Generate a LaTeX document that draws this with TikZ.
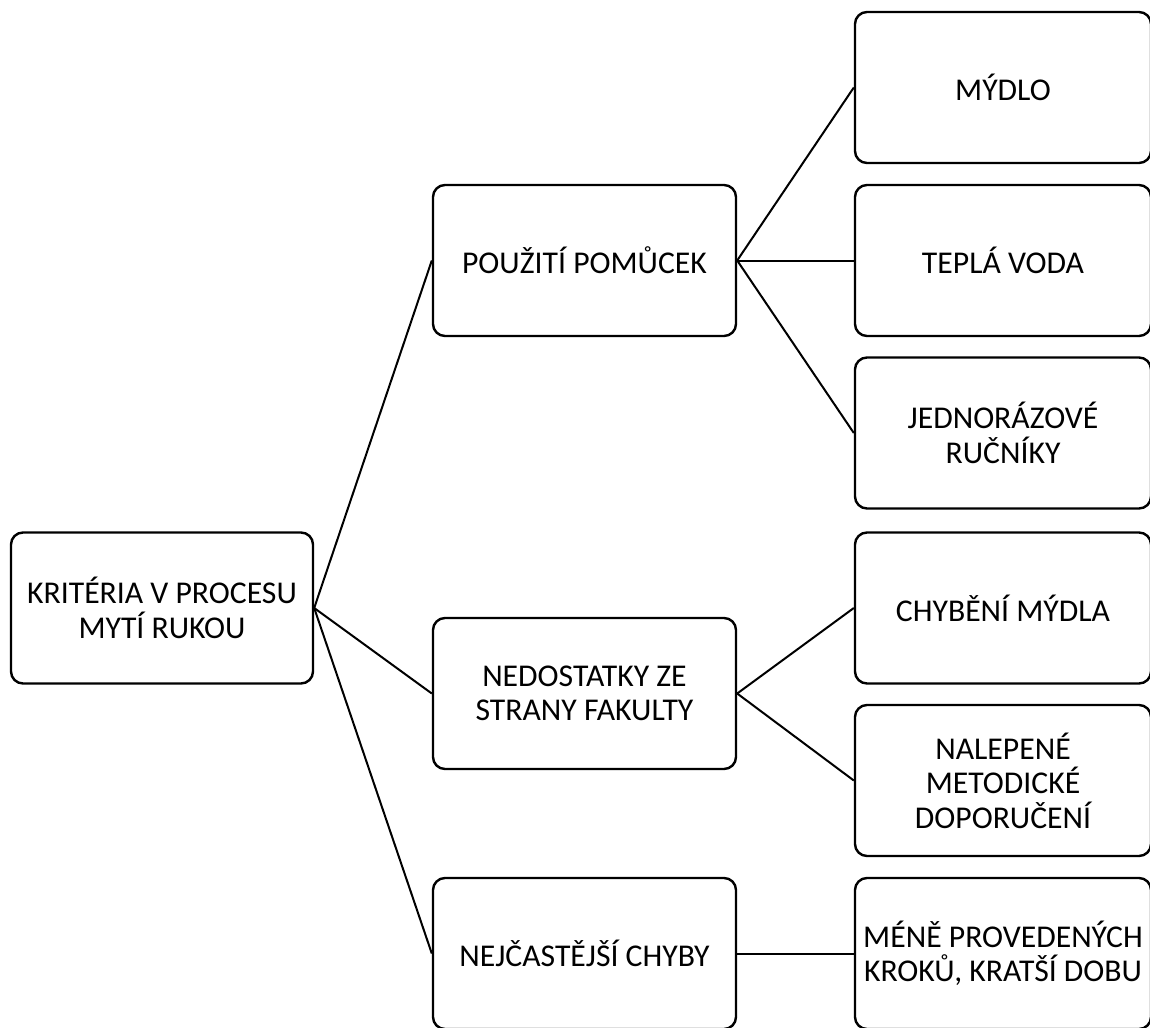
\documentclass[tikz,border=0pt]{standalone}
\usepackage{fontspec}
\setmainfont{Carlito}
\usepackage{tikz}
\usetikzlibrary{positioning}

\begin{document}
\begin{tikzpicture}
	[   x=1pt,y=-1pt,
		bnode/.style={draw=black,line width=2.4pt,fill=white,rounded corners=12pt,align=center,
			minimum height=151pt,minimum width=#1,inner sep=0pt,
			font=\fontsize{31.7}{34.5}\selectfont},
	]
	\tikzset{normal line/.style={draw,line width=2pt}}
	\useasboundingbox (0,0) rectangle (1150,1027);
	
	\node[bnode=302pt] (k) at (162,608) {KRITÉRIA V PROCESU\\MYTÍ RUKOU};
	
	\node[bnode=303pt] (m-1) at (584.5,260.5) {POUŽITÍ POMŮCEK};
	\node[bnode=303pt] (m-2) at (584.5,693.5) {NEDOSTATKY ZE\\STRANY FAKULTY};
	\node[bnode=303pt] (m-3) at (584.5,953.5) {NEJČASTĚJŠÍ CHYBY};
	
	\node[bnode=296pt] (r-1) at (1003,87.5) {MÝDLO};
	\node[bnode=296pt] (r-2) at (1003,260.5) {TEPLÁ VODA};
	\node[bnode=296pt] (r-3) at (1003,433) {JEDNORÁZOVÉ\\RUČNÍKY};
	\node[bnode=296pt] (r-4) at (1003,608) {CHYBĚNÍ MÝDLA};
	\node[bnode=296pt] (r-5) at (1003,780.5) {NALEPENÉ\\METODICKÉ\\DOPORUČENÍ};
	\node[bnode=296pt] (r-6) at (1003,953.5) {MÉNĚ PROVEDENÝCH\\KROKŮ, KRATŠÍ DOBU};
	
	\foreach \x in {1,...,3}
	{
		\path[normal line] (k.east) -- (m-\x.west);
		\path[normal line] (m-1.east) -- (r-\x.west);
	}
	\foreach \x in {4,5}
		\path[normal line] (m-2.east) -- (r-\x.west);
	\path[normal line] (m-3.east) -- (r-6.west);
\end{tikzpicture}
\end{document}
